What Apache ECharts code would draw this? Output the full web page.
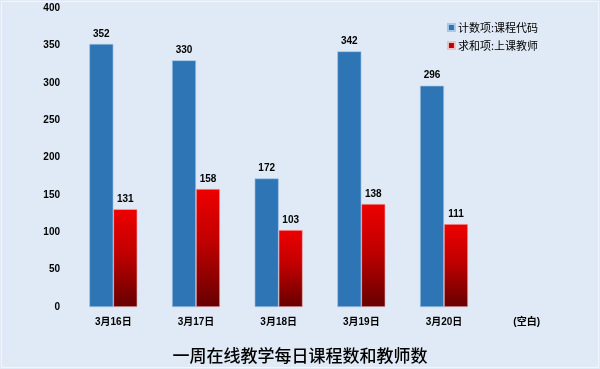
<!DOCTYPE html>
<html><head><meta charset="utf-8">
<script src="https://cdn.jsdelivr.net/npm/echarts@6/dist/echarts.min.js"></script>
<style>html,body{margin:0;padding:0;background:#dfeaf6;}#c{width:600px;height:369px;}</style>
</head><body><div id="c"></div>
<script>
const categories = ['3月16日','3月17日','3月18日','3月19日','3月20日','(空白)'];
const courseCounts = [352, 330, 172, 342, 296, null];
const teacherCounts = [131, 158, 103, 138, 111, null];
const seriesNames = ['计数项:课程代码','求和项:上课教师'];
const yTicks = {min:0, max:400, interval:50};
const titleText = '一周在线教学每日课程数和教师数';

const chart = echarts.init(document.getElementById('c'), null, {renderer:'canvas'});
const font = '"Liberation Sans","Noto Sans CJK SC",sans-serif';
const labelStyle = {show:true, position:'top', fontSize:10, fontWeight:'bold', color:'#000', fontFamily:font, distance:5};
chart.setOption({
  backgroundColor:'#dfeaf6',
  animation:false,
  graphic:[{type:'rect', shape:{x:1.5, y:1.5, width:597, height:366}, style:{fill:'none', stroke:'#f2f6fb', lineWidth:1}, silent:true}],
  title:{text:titleText, left:'center', top:342, textStyle:{fontSize:17, fontWeight:500, color:'#000', fontFamily:'"Noto Sans CJK SC",sans-serif'}},
  legend:{right:57, top:17, orient:'vertical', itemWidth:7, itemHeight:7, itemGap:7, icon:'rect',
    textStyle:{fontSize:11, color:'#000', fontFamily:'"Noto Sans CJK SC",sans-serif', padding:[0,0,0,-2]},
    data:[{name:seriesNames[0], itemStyle:{color:'#2e75b6'}},{name:seriesNames[1], itemStyle:{color:'#c00000'}}]},
  grid:{left:72, right:32, top:8, bottom:62},
  xAxis:{type:'category', data:categories, axisLine:{show:false}, axisTick:{show:false},
    axisLabel:{fontSize:10, fontWeight:'bold', color:'#000', margin:10, fontFamily:font}},
  yAxis:{type:'value', min:yTicks.min, max:yTicks.max, interval:yTicks.interval, splitLine:{show:false},
    axisLine:{show:false}, axisTick:{show:false},
    axisLabel:{fontSize:10, fontWeight:'bold', color:'#000', margin:12, fontFamily:font}},
  series:[
    {name:seriesNames[0], type:'bar', data:courseCounts, barWidth:24, barGap:'0%',
     itemStyle:{color:'#2e75b6', borderColor:'#a9c8e8', borderWidth:0.6}, label:labelStyle},
    {name:seriesNames[1], type:'bar', data:teacherCounts, barWidth:24,
     itemStyle:{color:new echarts.graphic.LinearGradient(0,0,0,1,[{offset:0,color:'#ee0000'},{offset:0.45,color:'#c00000'},{offset:1,color:'#660000'}]), borderColor:'#f0c0c0', borderWidth:0.6}, label:labelStyle}
  ]
});
</script></body></html>
